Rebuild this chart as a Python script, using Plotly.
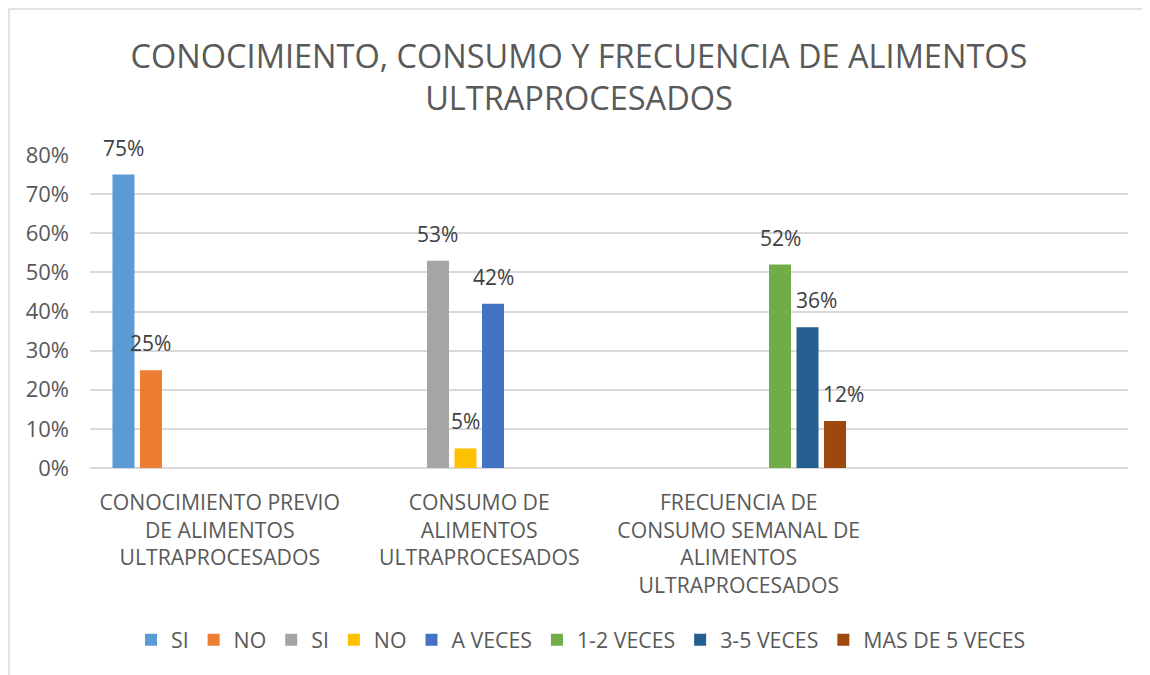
import plotly.graph_objects as go

categories = [
    "CONOCIMIENTO PREVIO<br>DE ALIMENTOS<br>ULTRAPROCESADOS",
    "CONSUMO DE<br>ALIMENTOS<br>ULTRAPROCESADOS",
    "FRECUENCIA DE<br>CONSUMO SEMANAL DE<br>ALIMENTOS<br>ULTRAPROCESADOS",
    " ",
]
series_names = ["SI", "NO", "SI", "NO", "A VECES", "1-2 VECES", "3-5 VECES", "MAS DE 5 VECES"]
si_1 = [0.75, None, None, None]
no_1 = [0.25, None, None, None]
si_2 = [None, 0.53, None, None]
no_2 = [None, 0.05, None, None]
a_veces = [None, 0.42, None, None]
v_1_2 = [None, None, 0.52, None]
v_3_5 = [None, None, 0.36, None]
mas_5 = [None, None, 0.12, None]
series_values = [si_1, no_1, si_2, no_2, a_veces, v_1_2, v_3_5, mas_5]
colors = ["#5B9BD5", "#ED7D31", "#A5A5A5", "#FFC000", "#4472C4", "#70AD47", "#255E91", "#9E480E"]
y_ticks = [0, 0.1, 0.2, 0.3, 0.4, 0.5, 0.6, 0.7, 0.8]

# style: horizontal nudge (px) of some data labels, as in the original
label_nudge = [0, 0, 0, 0, 0, 0, 9, 8]

FONT = "Open Sans, sans-serif"
TXT = "#595959"
BARGAP = 0.152
GROUPGAP = 0.2

fig = go.Figure()
n = len(series_values)
annotations = []
for i, (name, vals, col) in enumerate(zip(series_names, series_values, colors)):
    fig.add_trace(go.Bar(
        x=categories, y=vals, name=name, marker_color=col,
        marker_line_width=0,
    ))
    # data labels placed above each bar, using the grouped-bar slot offset
    offset = -(1 - BARGAP) / 2 + (i + 0.5) * (1 - BARGAP) / n
    for ci, v in enumerate(vals):
        if v is None:
            continue
        annotations.append(dict(
            x=ci + offset, y=v, xref="x", yref="y",
            text=f"{v:.0%}", showarrow=False,
            xanchor="center", yanchor="bottom", yshift=11, xshift=label_nudge[i],
            font=dict(family=FONT, size=21, color="#404040"),
        ))

W, H = 1142, 667
L, R, T, B = 82, 22, 147, 207
pw, ph = W - L - R, H - T - B

fig.update_layout(
    width=W, height=H,
    margin=dict(l=L, r=R, t=T, b=B),
    barmode="group", bargap=BARGAP, bargroupgap=GROUPGAP,
    plot_bgcolor="white", paper_bgcolor="white",
    font=dict(family=FONT, size=21, color=TXT),
    title=dict(
        text="CONOCIMIENTO, CONSUMO Y FRECUENCIA DE ALIMENTOS<br>ULTRAPROCESADOS",
        x=0.5, xanchor="center", y=1 - 60 / H, yanchor="middle",
        font=dict(family=FONT, size=32.5, color=TXT),
    ),
    xaxis=dict(
        type="category", categoryorder="array", categoryarray=categories,
        showgrid=False, showline=False, ticks="", tickangle=0,
        tickfont=dict(family=FONT, size=21.2, color=TXT),
        ticklabelstandoff=20, zeroline=False,
    ),
    yaxis=dict(
        range=[0, 0.8], tickvals=y_ticks, tickformat=".0%",
        showgrid=True, gridcolor="#D9D9D9", gridwidth=1.5,
        zeroline=True, zerolinecolor="#D9D9D9", zerolinewidth=1.5,
        showline=False, ticks="", ticklabelstandoff=20,
        tickfont=dict(family=FONT, size=22, color=TXT),
    ),
    legend=dict(
        orientation="h", x=0.473, xanchor="center", y=-(632 - (H - B)) / ph, yanchor="middle",
        font=dict(family=FONT, size=21.3, color=TXT),
        itemwidth=30, traceorder="normal",
    ),
    annotations=annotations,
    showlegend=True,
)

fig.add_shape(
    type="rect", xref="paper", yref="paper",
    x0=(1 - L) / pw, x1=(W + 20 - L) / pw,
    y0=-(H + 20 - (H - B)) / ph, y1=(H - B - 1) / ph,
    line=dict(color="#D9D9D9", width=1.5), fillcolor="rgba(0,0,0,0)", layer="below",
)

fig.write_html("out.html")
